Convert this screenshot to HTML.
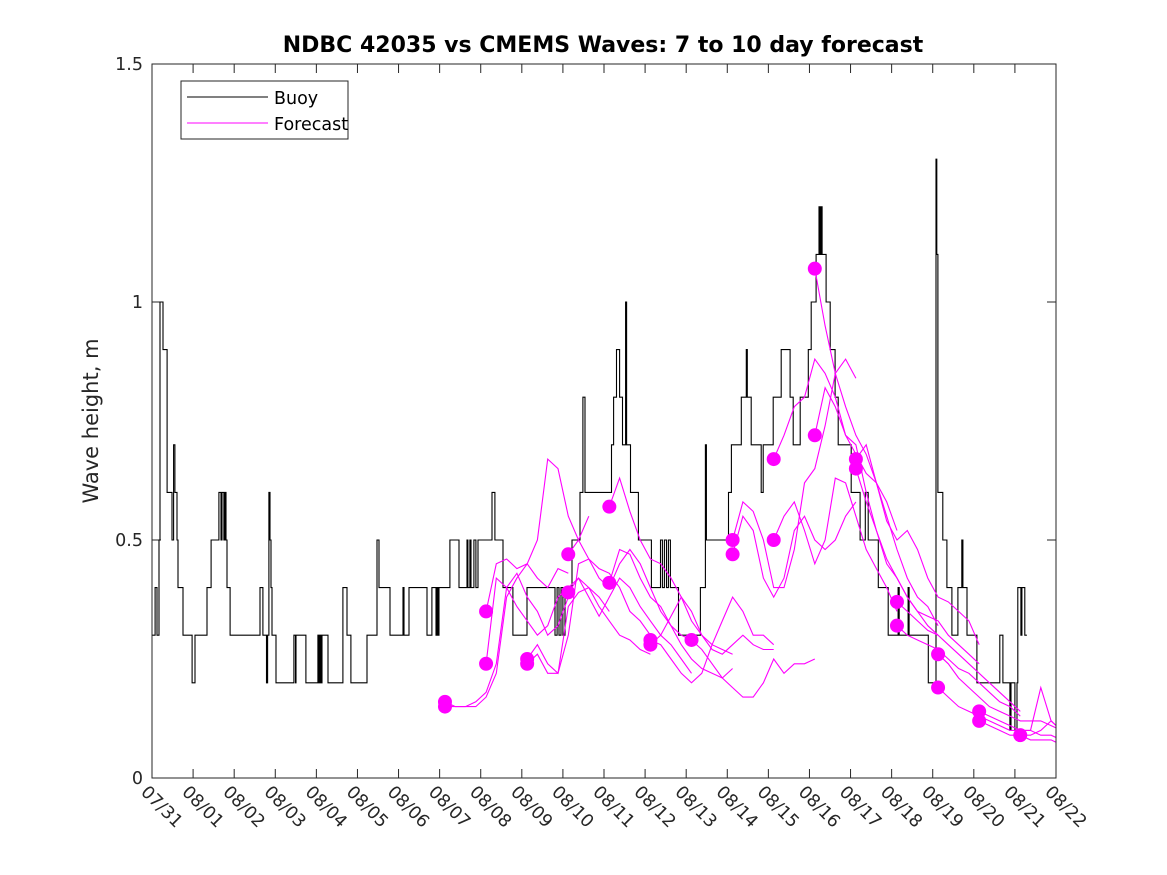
<!DOCTYPE html>
<html><head><meta charset="utf-8"><style>
html,body{margin:0;padding:0;background:#fff;}
svg{display:block;font-family:"DejaVu Sans","Liberation Sans",sans-serif;}
</style></head><body>
<svg id="chart" width="1167" height="875" viewBox="0 0 1167 875">
<defs><clipPath id="plotclip"><rect x="152" y="64" width="904" height="714"/></clipPath></defs>
<rect x="0" y="0" width="1167" height="875" fill="#fff"/>
<text x="603" y="52" text-anchor="middle" font-size="22" font-weight="bold">NDBC 42035 vs CMEMS Waves: 7 to 10 day forecast</text>
<text transform="translate(98,421) rotate(-90)" text-anchor="middle" font-size="21" fill="#262626">Wave height, m</text>
<g id="axes"></g>
<g id="series" clip-path="url(#plotclip)"></g>
<rect x="152" y="64" width="904" height="714" fill="none" stroke="#262626" stroke-width="1"/>
<g>
<rect x="181" y="81" width="167" height="58" fill="#fff" stroke="#262626"/>
<line x1="187" y1="97" x2="268" y2="97" stroke="#000"/>
<text x="274" y="104" font-size="17.5">Buoy</text>
<line x1="187" y1="123" x2="268" y2="123" stroke="#f0f"/>
<text x="274" y="130" font-size="17.5">Forecast</text>
</g>
</svg>
<script>
const xTickLabels=["07/31","08/01","08/02","08/03","08/04","08/05","08/06","08/07","08/08","08/09","08/10","08/11","08/12","08/13","08/14","08/15","08/16","08/17","08/18","08/19","08/20","08/21","08/22"];
const yTickValues=[0,0.5,1,1.5];
const yTickLabels=["0","0.5","1","1.5"];
const buoyHours=[0,0.6,1.8,2.9,4.1,4.7,6.4,8.8,11.7,12.6,13.4,14.6,15.2,18.1,23.4,25.1,32.1,34.5,39.1,40.3,40.9,42.0,42.6,43.2,43.8,45.6,63.1,64.8,66.9,67.5,68.3,68.9,69.5,70.1,72.4,82.9,83.8,84.1,89.9,96.9,97.5,98.1,98.7,99.3,102.8,111.5,113.9,116.2,125.6,131.4,132.6,139.0,146.6,147.2,150.1,160.6,163.5,165.9,166.4,167.0,167.6,174.0,179.3,184.0,184.5,185.7,186.3,188.0,189.2,190.4,198.6,200.3,205.0,210.8,219.0,235.4,236.6,237.7,238.9,240.0,241.2,245.3,250.0,251.7,252.9,257.5,268.4,269.6,271.3,273.1,274.8,276.6,277.2,279.5,284.1,291.7,297.0,298.1,299.3,300.5,301.6,302.8,307.5,320.3,323.2,323.8,336.7,338.4,344.2,347.1,347.7,350.0,355.8,357.0,362.8,367.5,372.7,374.5,378.6,383.3,385.0,387.9,389.6,390.2,390.8,391.4,393.7,396.1,399.0,400.8,408.4,413.6,416.6,418.3,424.2,430.0,435.8,436.4,441.6,442.2,453.4,457.9,458.4,459.0,461.9,464.3,467.2,470.7,473.0,473.6,476.0,481.8,495.2,497.0,501.1,501.7,504.0,505.2,505.7,507.5,508.1,509.8,511.0];
const buoyValues=[0.3,0.3,0.4,0.3,0.5,1.0,0.9,0.6,0.5,0.7,0.6,0.5,0.4,0.3,0.2,0.3,0.4,0.5,0.6,0.5,0.6,0.5,0.6,0.5,0.4,0.3,0.4,0.3,0.2,0.3,0.6,0.5,0.4,0.3,0.2,0.3,0.2,0.3,0.2,0.3,0.2,0.3,0.2,0.3,0.2,0.4,0.3,0.2,0.3,0.5,0.4,0.3,0.4,0.3,0.4,0.3,0.4,0.3,0.4,0.3,0.4,0.5,0.4,0.5,0.4,0.5,0.4,0.5,0.4,0.5,0.6,0.5,0.4,0.3,0.4,0.3,0.4,0.3,0.4,0.3,0.4,0.5,0.6,0.8,0.6,0.6,0.7,0.8,0.9,0.8,0.7,1.0,0.7,0.6,0.5,0.4,0.5,0.4,0.5,0.4,0.5,0.4,0.3,0.4,0.7,0.5,0.6,0.7,0.8,0.9,0.8,0.7,0.6,0.7,0.8,0.9,0.8,0.7,0.8,0.9,1.0,1.1,1.2,1.1,1.2,1.1,1.0,0.9,0.8,0.7,0.6,0.5,0.6,0.5,0.4,0.3,0.4,0.3,0.4,0.3,0.2,1.3,1.1,0.6,0.5,0.4,0.3,0.4,0.5,0.4,0.3,0.2,0.3,0.2,0.1,0.2,0.1,0.2,0.4,0.3,0.4,0.3,0.3];
const forecastStartDays=[7.13,7.13,8.13,8.13,9.13,9.13,10.13,10.13,11.13,11.13,12.13,12.13,13.13,14.13,14.13,15.13,15.13,16.13,16.13,17.13,17.13,18.13,18.13,19.13,19.13,20.13,20.13,21.13];
const forecastValues=[
[0.16,0.15,0.15,0.15,0.17,0.22,0.38,0.42,0.45,0.42,0.40,0.44,0.43],
[0.15,0.15,0.15,0.16,0.18,0.24,0.40,0.43,0.38,0.35,0.30,0.32,0.38],
[0.35,0.45,0.46,0.44,0.45,0.50,0.67,0.65,0.55,0.50,0.55],
[0.24,0.42,0.40,0.36,0.33,0.30,0.32,0.38,0.40,0.42,0.40,0.38,0.35],
[0.25,0.28,0.24,0.22,0.30,0.45,0.46,0.44,0.43,0.40,0.35,0.33,0.30],
[0.24,0.26,0.22,0.22,0.36,0.39,0.40,0.36,0.33,0.30,0.29,0.27,0.26],
[0.47,0.50,0.46,0.42,0.40,0.45,0.48,0.45,0.40,0.35,0.32,0.30,0.29],
[0.39,0.42,0.38,0.34,0.38,0.42,0.40,0.36,0.33,0.30,0.28,0.25,0.22],
[0.57,0.63,0.56,0.50,0.46,0.45,0.42,0.38,0.33,0.30,0.28,0.27,0.26],
[0.41,0.48,0.47,0.42,0.38,0.36,0.32,0.28,0.25,0.23,0.22,0.21,0.23],
[0.29,0.28,0.25,0.22,0.20,0.22,0.28,0.33,0.38,0.35,0.30,0.30,0.28],
[0.28,0.30,0.34,0.38,0.35,0.30,0.27,0.26,0.28,0.30,0.28,0.27,0.27],
[0.29,0.27,0.24,0.21,0.19,0.17,0.17,0.20,0.25,0.22,0.24,0.24,0.25],
[0.50,0.58,0.56,0.50,0.40,0.40,0.48,0.62,0.65,0.74,0.85,0.88,0.84],
[0.47,0.55,0.52,0.42,0.38,0.42,0.52,0.55,0.50,0.48,0.50,0.55,0.58],
[0.67,0.72,0.78,0.80,0.88,0.85,0.80,0.72,0.68,0.64,0.62,0.58,0.52],
[0.50,0.55,0.58,0.52,0.45,0.50,0.63,0.62,0.55,0.48,0.44,0.40,0.35],
[1.07,0.95,0.85,0.78,0.72,0.68,0.62,0.55,0.48,0.42,0.38,0.36,0.32],
[0.72,0.82,0.78,0.72,0.70,0.60,0.52,0.46,0.42,0.38,0.35,0.32,0.30],
[0.67,0.70,0.62,0.54,0.50,0.52,0.48,0.42,0.38,0.37,0.35,0.33,0.28],
[0.65,0.58,0.52,0.45,0.42,0.38,0.35,0.34,0.33,0.30,0.28,0.26,0.24],
[0.37,0.35,0.33,0.31,0.30,0.28,0.26,0.24,0.22,0.20,0.18,0.16,0.14],
[0.32,0.30,0.29,0.28,0.27,0.25,0.23,0.22,0.20,0.18,0.16,0.15,0.13],
[0.26,0.24,0.21,0.19,0.17,0.15,0.14,0.13,0.12,0.12,0.12,0.11,0.10],
[0.19,0.17,0.15,0.14,0.13,0.12,0.11,0.10,0.10,0.10,0.09,0.09,0.08],
[0.14,0.13,0.12,0.11,0.10,0.10,0.19,0.12,0.10,0.09,0.08],
[0.12,0.11,0.10,0.09,0.09,0.08,0.08,0.08,0.07,0.07,0.06],
[0.09,0.09,0.10,0.12,0.10,0.07,0.06]
];
const NS="http://www.w3.org/2000/svg";
const X0=152,X1=1056,Y0=778,Y1=64,DAYS=22,YMAX=1.5;
function xScale(d){return X0+d*(X1-X0)/DAYS;}
function yScale(v){return Y0-v*(Y0-Y1)/YMAX;}
function mk(tag,attrs,parent){const e=document.createElementNS(NS,tag);for(const k in attrs)e.setAttribute(k,attrs[k]);parent.appendChild(e);return e;}
const axes=document.getElementById('axes');
const series=document.getElementById('series');
xTickLabels.forEach((lab,i)=>{
  const x=xScale(i);
  const t1=mk('line',{x1:x,y1:Y0,x2:x,y2:Y0-9,stroke:'#262626'},axes);
  
  
  const t2=mk('line',{x1:x,y1:Y1,x2:x,y2:Y1+9,stroke:'#262626'},axes);
  
  
  const tx=mk('text',{transform:`translate(${x-12},${Y0+15}) rotate(45)`,'font-size':'17.5',fill:'#262626'},axes);
  tx.textContent=lab;
  
  
});
yTickValues.forEach((v,i)=>{
  const y=yScale(v);
  const a=mk('line',{x1:X0,y1:y,x2:X0+9,y2:y,stroke:'#262626'},axes);
  
  
  const b=mk('line',{x1:X1,y1:y,x2:X1-9,y2:y,stroke:'#262626'},axes);
  
  
  const tx=mk('text',{x:X0-9,y:y+6,'text-anchor':'end','font-size':'17.5',fill:'#262626'},axes);
  tx.textContent=yTickLabels[i];
  
  
});
let d='';
buoyHours.forEach((h,i)=>{
  const x=xScale(h/24).toFixed(1),y=yScale(buoyValues[i]).toFixed(1);
  if(i===0)d+=`M${x},${y}`;else d+=`H${x}V${y}`;
});
const bp=mk('path',{d:d,fill:'none',stroke:'#000','stroke-width':'1.1'},series);


forecastValues.forEach((vals,k)=>{
  const s=forecastStartDays[k];
  const pts=vals.map((v,j)=>xScale(s+j*0.25).toFixed(1)+','+yScale(v).toFixed(1)).join(' ');
  const pl=mk('polyline',{points:pts,fill:'none',stroke:'#f0f','stroke-width':'1.1'},series);
  
  
});
forecastValues.forEach((vals,k)=>{
  const c=mk('circle',{cx:xScale(forecastStartDays[k]),cy:yScale(vals[0]),r:7,fill:'#f0f'},series);
  
  
});
</script>
</body></html>
